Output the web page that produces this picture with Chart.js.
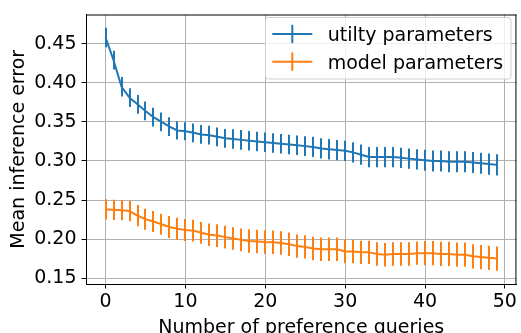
<!DOCTYPE html>
<html><head><meta charset="utf-8">
<script src="https://cdn.jsdelivr.net/npm/chart.js@4/dist/chart.umd.min.js"></script>
<style>html,body{margin:0;padding:0;background:#fff;overflow:hidden}#wrap{width:521px;height:333px}</style>
</head><body><div id="wrap"><canvas id="c" width="521" height="333"></canvas></div>
<script>
const queries = [0,1,2,3,4,5,6,7,8,9,10,11,12,13,14,15,16,17,18,19,20,21,22,23,24,25,26,27,28,29,30,31,32,33,34,35,36,37,38,39,40,41,42,43,44,45,46,47,48,49];
const utilityMean = [0.458,0.429,0.395,0.381,0.3725,0.364,0.356,0.350,0.344,0.339,
  0.338,0.336,0.334,0.333,0.331,0.329,0.328,0.327,0.326,0.325,
  0.324,0.323,0.322,0.321,0.320,0.319,0.318,0.316,0.315,0.314,
  0.313,0.311,0.308,0.305,0.305,0.305,0.305,0.304,0.303,0.302,
  0.301,0.300,0.300,0.299,0.299,0.299,0.298,0.297,0.296,0.295];
const utilityErr = [0.0125,0.012,0.0125,0.012,0.012,0.012,0.012,0.012,0.012,0.0115,
  0.0115,0.012,0.012,0.012,0.012,0.012,0.0125,0.0125,0.0125,0.0125,
  0.0125,0.0125,0.0125,0.0125,0.0125,0.0125,0.013,0.013,0.013,0.013,
  0.013,0.013,0.013,0.013,0.013,0.013,0.013,0.013,0.013,0.013,
  0.0135,0.0135,0.0135,0.0135,0.0135,0.0135,0.0135,0.0135,0.0135,0.0135];
const modelMean = [0.238,0.2375,0.237,0.2358,0.230,0.2254,0.2225,0.219,0.2154,0.2133,
  0.2117,0.2108,0.208,0.2055,0.2045,0.2025,0.2008,0.199,0.1975,0.197,
  0.1963,0.196,0.195,0.1934,0.191,0.190,0.188,0.187,0.187,0.187,
  0.184,0.184,0.183,0.183,0.181,0.180,0.181,0.181,0.181,0.182,
  0.182,0.182,0.181,0.181,0.180,0.180,0.178,0.177,0.176,0.175];
const modelErr = [0.013,0.013,0.013,0.013,0.0135,0.0135,0.0135,0.0135,0.014,0.014,
  0.014,0.014,0.014,0.0145,0.0145,0.0145,0.0145,0.0145,0.015,0.015,
  0.015,0.015,0.015,0.015,0.015,0.015,0.015,0.015,0.015,0.015,
  0.015,0.015,0.015,0.015,0.015,0.015,0.015,0.015,0.015,0.015,
  0.0155,0.0155,0.0155,0.0155,0.0155,0.0155,0.0155,0.0155,0.0155,0.0155];
const seriesLabels = ['utilty parameters','model parameters'];
const seriesColors = ['#1f77b4','#ff7f0e'];
const yTicks = [0.15,0.20,0.25,0.30,0.35,0.40,0.45];
const xTicks = [0,10,20,30,40,50];
const xTitle = 'Number of preference queries';
const yTitle = 'Mean inference error';

const FONT = {family:'"DejaVu Sans"', size:19, lineHeight:1};

const errorBarPlugin = {
  id:'errorBars',
  afterDatasetsDraw(chart){
    const ctx=chart.ctx, xs=chart.scales.x, ys=chart.scales.y, a=chart.chartArea;
    ctx.save();
    ctx.beginPath(); ctx.rect(a.left,a.top,a.right-a.left,a.bottom-a.top); ctx.clip();
    chart.data.datasets.forEach(ds=>{
      const errs = ds.errs;
      ctx.strokeStyle = ds.borderColor; ctx.lineWidth = 2; ctx.lineCap='butt';
      ds.data.forEach((p,i)=>{
        const x = Math.round(xs.getPixelForValue(p.x));
        ctx.beginPath();
        ctx.moveTo(x, ys.getPixelForValue(p.y-errs[i]));
        ctx.lineTo(x, ys.getPixelForValue(p.y+errs[i]));
        ctx.stroke();
      });
    });
    ctx.restore();
  }
};

const framePlugin = {
  id:'frame',
  afterDraw(chart){
    const ctx=chart.ctx, a=chart.chartArea;
    ctx.save();
    ctx.strokeStyle='#000'; ctx.lineWidth=1;
    ctx.beginPath();
    ctx.moveTo(a.left, a.top+0.5); ctx.lineTo(a.right, a.top+0.5);
    ctx.moveTo(a.right-0.5, a.top); ctx.lineTo(a.right-0.5, a.bottom);
    ctx.stroke();
    // legend
    const lx=265.5, ly=17.5, lw=245.5, lh=61.5, r=3;
    ctx.beginPath();
    ctx.moveTo(lx+r,ly); ctx.lineTo(lx+lw-r,ly); ctx.arcTo(lx+lw,ly,lx+lw,ly+r,r);
    ctx.lineTo(lx+lw,ly+lh-r); ctx.arcTo(lx+lw,ly+lh,lx+lw-r,ly+lh,r);
    ctx.lineTo(lx+r,ly+lh); ctx.arcTo(lx,ly+lh,lx,ly+lh-r,r);
    ctx.lineTo(lx,ly+r); ctx.arcTo(lx,ly,lx+r,ly,r); ctx.closePath();
    ctx.fillStyle='rgba(255,255,255,0.8)'; ctx.fill();
    ctx.strokeStyle='#d0d0d0'; ctx.stroke();
    ctx.font = '19px "DejaVu Sans"';
    ctx.textBaseline='alphabetic'; ctx.textAlign='left';
    seriesLabels.forEach((lab,i)=>{
      const cy = 34 + i*27.7;
      ctx.strokeStyle = seriesColors[i]; ctx.lineWidth=2;
      ctx.beginPath(); ctx.moveTo(272.3,cy); ctx.lineTo(312.3,cy); ctx.stroke();
      ctx.beginPath(); ctx.moveTo(292.3,cy-9.2); ctx.lineTo(292.3,cy+9.2); ctx.stroke();
      ctx.fillStyle='#000';
      ctx.fillText(lab, 327.7, 41 + i*28);
    });
    ctx.restore();
  }
};

function mk(mean){ return queries.map((q,i)=>({x:q,y:mean[i]})); }

new Chart(document.getElementById('c'), {
  type:'line',
  data:{datasets:[
    {label:seriesLabels[0], data:mk(utilityMean), errs:utilityErr, borderColor:seriesColors[0], borderWidth:2, pointRadius:0, tension:0, fill:false, borderJoinStyle:'round'},
    {label:seriesLabels[1], data:mk(modelMean), errs:modelErr, borderColor:seriesColors[1], borderWidth:2, pointRadius:0, tension:0, fill:false, borderJoinStyle:'round'}
  ]},
  options:{
    responsive:false, animation:false, devicePixelRatio:1,
    layout:{padding:{top:9,right:1.5,left:0,bottom:0}},
    plugins:{legend:{display:false}, tooltip:{enabled:false}},
    scales:{
      x:{type:'linear', min:-2.45, max:51.45,
        afterBuildTicks:s=>{s.ticks = xTicks.map(v=>({value:v}));},
        afterFit:s=>{s.height=49;},
        ticks:{font:FONT, color:'#000', padding:4, maxRotation:0, autoSkip:false, callback:v=>String(v)},
        grid:{color:'#b0b0b0', lineWidth:1, tickLength:4.5, tickColor:'#000', tickWidth:1},
        border:{color:'#000', width:1},
        title:{display:true, text:xTitle, font:FONT, color:'#000', padding:{top:0,bottom:-5}}
      },
      y:{type:'linear', min:0.1425, max:0.4875,
        afterBuildTicks:s=>{s.ticks = yTicks.map(v=>({value:v}));},
        afterFit:s=>{s.width=86;},
        ticks:{font:FONT, color:'#000', padding:5, callback:v=>v.toFixed(2)},
        grid:{color:'#b0b0b0', lineWidth:1, tickLength:4.5, tickColor:'#000', tickWidth:1},
        border:{color:'#000', width:1},
        title:{display:true, text:yTitle, font:FONT, color:'#000', padding:{top:10,bottom:0}}
      }
    }
  },
  plugins:[errorBarPlugin, framePlugin]
});
</script></body></html>
